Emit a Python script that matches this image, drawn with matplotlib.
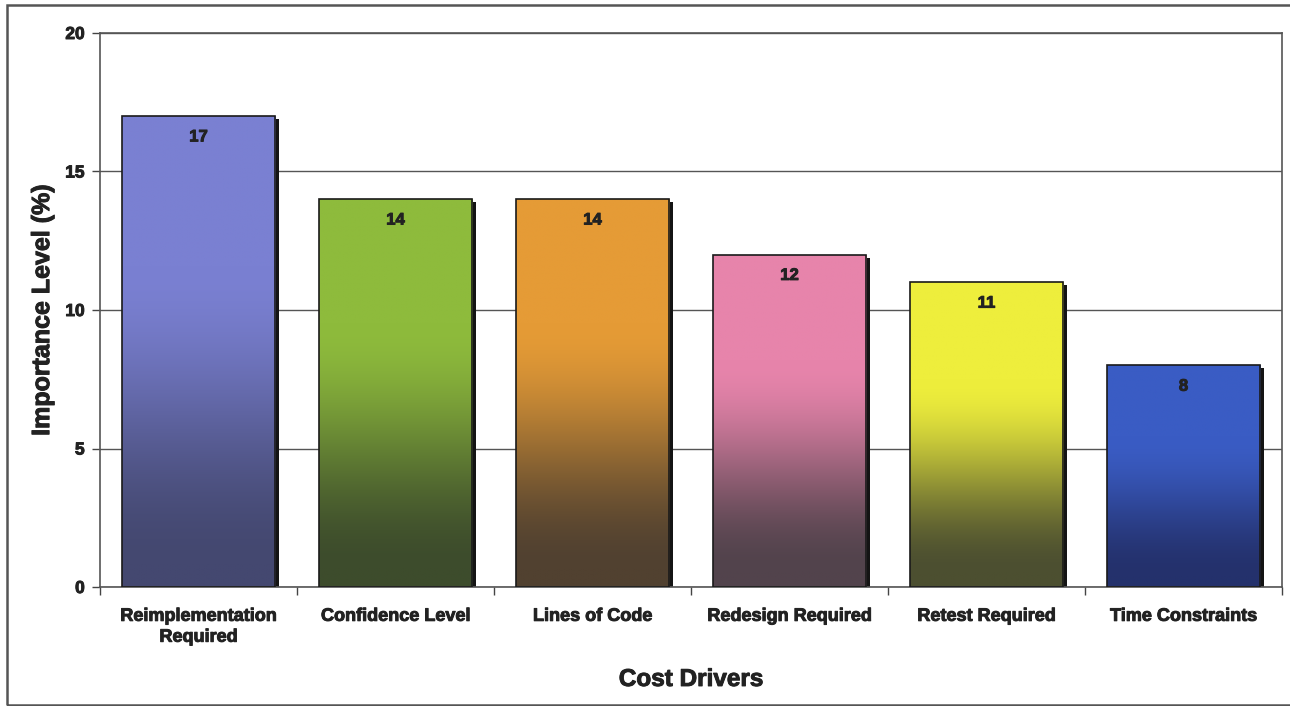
import matplotlib.pyplot as plt
import matplotlib.patheffects as pe
import numpy as np
from matplotlib.colors import to_rgb
from matplotlib.patches import Rectangle
from matplotlib.transforms import ScaledTranslation

plt.rcParams["font.family"] = ["Liberation Sans", "DejaVu Sans"]
plt.rcParams["font.weight"] = "bold"

categories = ["Reimplementation\nRequired", "Confidence Level", "Lines of Code",
              "Redesign Required", "Retest Required", "Time Constraints"]
importance = [17, 14, 14, 12, 11, 8]

# light (top) and dark (bottom) shade for each bar's vertical gradient
top_colors = ["#7a80d2", "#8ebb3c", "#e59b36", "#e784ab", "#eeee3c", "#3a5cc4"]
bottom_colors = ["#444870", "#3d4c2c", "#514130", "#52434c", "#4c4f30", "#24316c"]

TEXT = "#222222"
HEAVY = [pe.withStroke(linewidth=0.7, foreground=TEXT)]


def _gradient(c_top, c_bot, n=256, start=0.32, stop=0.95):
    top = np.array(to_rgb(c_top))
    bot = np.array(to_rgb(c_bot))
    t = np.linspace(0, 1, n)
    s = np.clip((t - start) / (stop - start), 0, 1)
    s = s * s * (3 - 2 * s)
    rgb = top[None, :] * (1 - s[:, None]) + bot[None, :] * s[:, None]
    return rgb[:, None, :]


fig = plt.figure(figsize=(12.9, 7.06), dpi=100)
ax = fig.add_axes([100 / 1290, 119 / 706, 1182 / 1290, 554 / 706])

x = np.arange(len(categories))
bars = ax.bar(x, importance, width=0.78, color="none", edgecolor="#1a1a1a",
              linewidth=1.2, zorder=3)

shift = ax.transData + ScaledTranslation(4 / 100, -3 / 100, fig.dpi_scale_trans)
for bar, c_top, c_bot, val in zip(bars, top_colors, bottom_colors, importance):
    x0, y0 = bar.get_x(), bar.get_y()
    w, h = bar.get_width(), bar.get_height()
    # drop shadow behind the bar
    shadow = Rectangle((x0, y0), w, h, facecolor="#141414", edgecolor="none",
                       zorder=2)
    ax.add_patch(shadow)
    shadow.set_transform(shift)
    shadow.set_clip_on(True)
    img = ax.imshow(_gradient(c_top, c_bot), extent=(x0, x0 + w, y0, y0 + h),
                    aspect="auto", zorder=2.5, interpolation="bilinear")
    img.set_clip_path(bar)
    ax.annotate(f"{val}", (x0 + w / 2, y0 + h), xytext=(0, -15),
                textcoords="offset points", ha="center", va="center",
                fontsize=12, fontweight="bold", color=TEXT, zorder=4,
                path_effects=HEAVY)

ax.set_xlim(-0.5, len(categories) - 0.5)
ax.set_ylim(0, 20)
ax.set_yticks([0, 5, 10, 15, 20])
ax.set_xticks(x)
ax.set_xticklabels(categories, fontsize=13, fontweight="bold", color=TEXT,
                   linespacing=1.3)
ax.set_xticks(np.arange(len(categories) + 1) - 0.5, minor=True)
ax.tick_params(axis="x", which="major", length=0, pad=15)
ax.tick_params(axis="x", which="minor", length=6, direction="out",
               color="#444444", width=1)
ax.tick_params(axis="y", length=6, direction="out", color="#444444", width=1,
               labelsize=12.5, labelcolor=TEXT, pad=5)
for lbl in ax.get_yticklabels() + ax.get_xticklabels():
    lbl.set_fontweight("bold")
    lbl.set_path_effects(HEAVY)

ax.grid(axis="y", color="#555555", linewidth=1, zorder=1)
ax.set_axisbelow(True)
for side in ["left", "right", "top", "bottom"]:
    ax.spines[side].set_color("#555555")
    ax.spines[side].set_linewidth(1.2)

ax.set_ylabel("Importance Level (%)", fontsize=18, fontweight="bold",
              color=TEXT, labelpad=8, path_effects=HEAVY)
ax.set_xlabel("Cost Drivers", fontsize=17.5, fontweight="bold", color=TEXT,
              labelpad=16, path_effects=HEAVY)

# outer frame around the chart area
fig.add_artist(Rectangle((7 / 1290, 1 / 706), 1.05, 700 / 706,
                         transform=fig.transFigure, facecolor="none",
                         edgecolor="#555555", linewidth=1.8))

fig.savefig("out.png", dpi=100)
